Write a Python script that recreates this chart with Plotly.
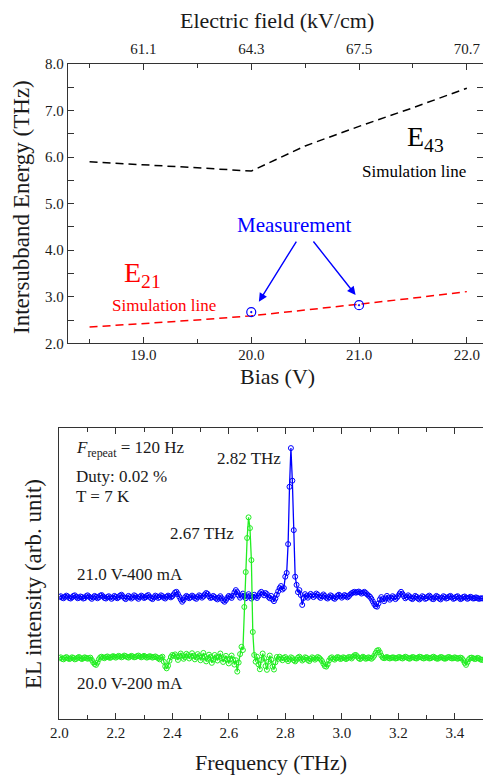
import numpy as np
import plotly.graph_objects as go

# ---------------- Top panel data ----------------
bias = [18.5, 19.0, 19.5, 20.0, 20.5, 21.0, 21.5, 22.0]
e43_sim = [5.90, 5.84, 5.77, 5.70, 6.24, 6.66, 7.06, 7.48]
e21_sim = [2.35, 2.42, 2.50, 2.59, 2.71, 2.84, 2.97, 3.11]
meas_bias = [20.0, 21.0]
meas_energy = [2.67, 2.82]
top_tick_bias = [19.0, 20.0, 21.0, 22.0]
top_tick_field = ["61.1", "64.3", "67.5", "70.7"]

# ---------------- Bottom panel data ----------------
freq_start, freq_step, n_freq = 2.0, 0.005, 301
freq = np.round(freq_start + freq_step * np.arange(n_freq), 3)

el_21V = [
    42.0, 42.3, 41.8, 41.6, 42.1, 42.5, 42.2, 41.7, 41.5, 41.9, 42.4, 42.6, 42.1, 41.6, 41.8, 42.2, 42.0, 41.5, 41.7, 42.3,
    42.6, 42.2, 41.8, 41.4, 41.9, 42.4, 42.1, 41.6, 41.9, 42.5, 42.7, 42.2, 41.7, 41.5, 42.0, 42.3, 41.9, 41.4, 41.8, 42.4,
    42.1, 41.6, 41.9, 42.5, 42.8, 42.3, 41.7, 41.3, 41.8, 42.4, 42.0, 41.5, 41.9, 42.6, 42.3, 41.8, 41.4, 42.0, 42.5, 42.2,
    41.7, 41.9, 42.4, 42.7, 42.1, 41.6, 41.3, 41.9, 42.5, 42.2, 41.7, 42.0, 42.6, 42.3, 41.8, 41.5, 42.1, 42.5, 42.2, 41.9,
    42.3, 42.9, 43.6, 43.8, 43.0, 42.1, 41.2, 40.4, 41.0, 41.9, 42.4, 42.1, 41.6, 41.9, 42.5, 42.2, 41.7, 41.4, 42.0, 42.6,
    42.3, 41.8, 42.2, 42.9, 43.4, 43.1, 42.3, 41.7, 41.9, 42.4, 42.0, 41.5, 41.2, 41.8, 42.3, 41.6, 40.8, 40.4, 41.0, 41.8,
    42.4, 42.1, 41.7, 42.5, 43.6, 44.4, 43.7, 42.6, 41.8, 42.5, 43.2, 42.4, 41.6, 42.2, 43.0, 42.3, 41.5, 42.1, 42.8, 42.2,
    41.7, 42.4, 43.3, 43.8, 43.2, 42.6, 43.4, 43.0, 42.1, 41.6, 42.4, 41.2, 40.6, 41.5, 42.8, 44.0, 45.1, 45.8, 44.6, 45.1,
    49.0, 50.3, 60.2, 79.9, 93.2, 82.0, 65.0, 49.0, 46.2, 43.7, 44.4, 42.7, 39.3, 41.7, 43.0, 42.4, 41.8, 42.5, 43.1, 42.6,
    42.0, 42.5, 43.2, 42.8, 42.1, 41.7, 42.3, 42.9, 42.4, 41.8, 41.5, 42.0, 42.6, 42.3, 41.7, 41.4, 41.9, 42.5, 42.8, 42.3,
    41.8, 42.2, 42.7, 42.4, 41.9, 42.3, 42.9, 43.3, 43.6, 43.8, 43.5, 43.7, 43.9, 43.6, 43.2, 43.5, 43.8, 43.4, 42.9, 42.5,
    42.1, 41.4, 40.5, 39.6, 38.9, 38.7, 39.8, 41.2, 42.0, 41.3, 40.6, 41.5, 42.4, 41.8, 41.1, 41.7, 42.3, 41.9, 41.3, 41.8,
    42.4, 43.2, 43.8, 43.1, 42.3, 41.6, 42.0, 42.6, 42.2, 41.6, 41.3, 41.8, 42.4, 42.1, 41.5, 41.2, 41.7, 42.3, 42.0, 41.4,
    41.6, 42.2, 42.5, 42.0, 41.4, 41.3, 41.9, 42.4, 42.1, 41.5, 41.2, 41.8, 42.3, 42.0, 41.5, 41.7, 42.2, 42.4, 41.9, 41.4,
    41.6, 42.1, 42.3, 41.8, 41.3, 41.5, 42.0, 42.2, 41.8, 41.4, 41.7, 42.1, 41.9, 41.5, 41.6, 41.9, 41.7, 41.4, 41.5, 41.6,
    41.5,
]

el_20V = [
    21.0, 21.3, 20.8, 20.6, 21.1, 21.4, 21.0, 20.7, 20.9, 21.3, 21.1, 20.6, 20.8, 21.2, 21.4, 21.0, 20.7, 21.0, 21.3, 21.1,
    20.8, 21.0, 21.2, 20.4, 19.6, 19.0, 18.7, 19.5, 20.6, 21.3, 21.5, 21.2, 21.0, 21.4, 21.6, 21.3, 21.1, 21.4, 21.7, 21.5,
    21.2, 21.5, 21.8, 21.6, 21.3, 21.5, 21.9, 21.7, 21.4, 21.2, 21.5, 21.8, 21.6, 21.3, 21.4, 21.7, 21.9, 21.6, 21.3, 21.5,
    21.8, 21.5, 21.2, 21.4, 21.7, 21.5, 21.2, 21.4, 21.6, 21.3, 21.0, 20.6, 21.2, 21.5, 19.8, 18.2, 17.5, 18.4, 20.1, 21.4,
    22.1, 21.8, 22.3, 21.5, 20.4, 21.7, 22.6, 21.9, 20.8, 21.4, 22.5, 22.0, 20.9, 21.6, 22.7, 21.8, 20.6, 21.3, 22.4, 21.7,
    20.3, 21.2, 22.8, 21.6, 19.9, 20.8, 22.2, 21.4, 19.4, 20.5, 22.1, 21.3, 20.2, 21.5, 22.6, 21.0, 19.7, 20.9, 21.8, 20.6,
    19.2, 20.7, 21.9, 20.5, 18.8, 20.3, 16.4, 19.5, 22.4, 24.9, 23.8, 38.6, 50.6, 62.3, 69.4, 65.7, 54.7, 30.0, 22.1, 19.8,
    21.5, 18.9, 17.2, 20.4, 22.6, 21.0, 18.3, 17.0, 19.8, 21.9, 20.5, 18.1, 17.1, 19.6, 21.4, 20.8, 21.5, 20.9, 20.3, 21.1,
    21.4, 20.7, 20.0, 20.6, 21.3, 21.0, 20.3, 19.9, 20.5, 21.2, 21.5, 20.9, 20.2, 20.6, 21.3, 21.1, 20.4, 20.0, 20.7, 21.3,
    21.0, 20.5, 20.9, 21.4, 21.1, 20.6, 20.0, 19.1, 18.3, 18.1, 18.9, 20.2, 21.0, 21.3, 20.8, 20.5, 21.0, 21.4, 21.2, 20.7,
    20.9, 21.3, 21.1, 20.7, 21.0, 21.4, 21.3, 20.9, 21.5, 22.0, 22.1, 21.6, 21.0, 20.7, 21.1, 21.5, 21.2, 20.8, 21.0, 21.3,
    21.1, 20.8, 21.2, 21.9, 22.8, 23.6, 23.8, 23.0, 21.9, 21.2, 21.0, 21.2, 21.4, 21.1, 20.9, 21.1, 21.3, 21.2, 20.9, 21.0,
    21.3, 21.4, 21.1, 20.9, 21.2, 21.5, 21.3, 21.0, 20.8, 21.1, 21.4, 21.3, 21.0, 20.9, 21.2, 21.5, 21.4, 21.1, 20.9, 21.1,
    21.4, 21.2, 20.9, 21.0, 21.3, 21.5, 21.2, 20.9, 20.8, 21.1, 21.4, 21.3, 21.0, 20.8, 21.0, 21.3, 21.4, 21.1, 20.9, 21.0,
    21.3, 21.1, 20.8, 21.0, 21.2, 21.0, 20.3, 19.4, 18.7, 19.6, 20.6, 21.1, 21.2, 21.0, 20.7, 20.8, 21.1, 21.0, 20.6, 20.4,
    20.5,
]

W, H = 483, 776
FONT = "Liberation Serif, Times New Roman, serif"
AX = "#333333"
TXT = "#1a1a1a"
BLUE = "#0000ff"
GREEN = "#22ee22"
RED = "#ff0000"

fig = go.Figure()

# top panel
fig.add_trace(go.Scatter(x=bias, y=e43_sim, mode="lines", xaxis="x", yaxis="y",
                         line=dict(color="black", width=1.5, dash="8px,5px"), showlegend=False))
fig.add_trace(go.Scatter(x=bias, y=e21_sim, mode="lines", xaxis="x", yaxis="y",
                         line=dict(color=RED, width=1.5, dash="8px,5px"), showlegend=False))
fig.add_trace(go.Scatter(x=meas_bias, y=meas_energy, mode="markers", xaxis="x", yaxis="y",
                         marker=dict(symbol="circle-open-dot", size=9, color=BLUE, line=dict(width=1.2, color=BLUE)),
                         showlegend=False))
# invisible trace to activate top axis
fig.add_trace(go.Scatter(x=bias, y=e43_sim, mode="lines", xaxis="x2", yaxis="y",
                         line=dict(width=0), opacity=0, hoverinfo="skip", showlegend=False))

# bottom panel
fig.add_trace(go.Scatter(x=freq, y=el_21V, mode="lines+markers", xaxis="x3", yaxis="y2",
                         line=dict(color=BLUE, width=1.3),
                         marker=dict(symbol="circle-open", size=5, color=BLUE, line=dict(width=1, color=BLUE)),
                         showlegend=False))
fig.add_trace(go.Scatter(x=freq, y=el_20V, mode="lines+markers", xaxis="x3", yaxis="y2",
                         line=dict(color=GREEN, width=1.3),
                         marker=dict(symbol="circle-open", size=5, color=GREEN, line=dict(width=1, color=GREEN)),
                         showlegend=False))

def py(p):
    return 1 - p / H

def px(p):
    return p / W

axis_common = dict(showline=True, linecolor=AX, linewidth=1.3, showgrid=False, zeroline=False,
                   automargin=False,
                   ticks="inside", tickcolor=AX, tickwidth=1.2, ticklen=6,
                   tickfont=dict(family=FONT, size=15, color=TXT))

fig.update_layout(
    width=W, height=H,
    margin=dict(l=0, r=0, t=0, b=0, pad=0),
    paper_bgcolor="white", plot_bgcolor="white",
    font=dict(family=FONT, color=TXT),
    xaxis=dict(domain=[px(68), 1.0], anchor="y", range=[18.3, 22.15], dtick=1, tick0=19,
               tickformat=".1f", mirror="allticks", ticklabelstandoff=-2,
               minor=dict(dtick=0.5, tick0=18.5, ticks="inside", ticklen=4, tickcolor=AX, tickwidth=1.2),
               **axis_common),
    xaxis2=dict(overlaying="x", side="top", anchor="y", range=[18.3, 22.15], automargin=False,
                tickvals=top_tick_bias, ticktext=top_tick_field, ticks="", showline=False,
                showgrid=False, zeroline=False, ticklabelstandoff=6,
                tickfont=dict(family=FONT, size=15, color=TXT)),
    yaxis=dict(domain=[py(343.3), py(64)], anchor="x", range=[2, 8], dtick=1, tick0=2,
               tickformat=".1f", mirror="allticks",
               minor=dict(dtick=0.5, ticks="inside", ticklen=4, tickcolor=AX, tickwidth=1.2),
               **axis_common),
    xaxis3=dict(domain=[px(59.3), 1.0], anchor="y2", range=[2.0, 3.5], dtick=0.2, tick0=2.0,
                tickformat=".1f", mirror="allticks",
                minor=dict(dtick=0.1, ticks="inside", ticklen=4, tickcolor=AX, tickwidth=1.2),
                **axis_common),
    yaxis2=dict(domain=[py(719.3), py(428.3)], anchor="x3", range=[0, 100], automargin=False,
                showticklabels=False, ticks="", showline=True, mirror=True,
                linecolor=AX, linewidth=1.3, showgrid=False, zeroline=False),
)

ann = []
def text(x, y, s, size, color=TXT, xref="paper", yref="paper", xanchor="center", yanchor="middle", angle=0):
    ann.append(dict(x=x, y=y, xref=xref, yref=yref, text=s, showarrow=False, xanchor=xanchor,
                    yanchor=yanchor, textangle=angle, font=dict(family=FONT, size=size, color=color)))

# axis titles
text(px(277), py(20), "Electric field (kV/cm)", 22)
text(px(277), py(376), "Bias (V)", 22)
text(px(22), py(207), "Intersubband Energy (THz)", 23, angle=-90)
text(px(33), py(584), "EL intensity (arb. unit)", 23, angle=-90)
text(px(271), py(762), "Frequency (THz)", 22)

# top panel labels
text(20.396, 4.54, "Measurement", 21, BLUE, "x", "y")
text(18.80, 3.47, "E<sub>21</sub>", 28, RED, "x", "y", xanchor="left")
text(19.186, 2.82, "Simulation line", 17, RED, "x", "y")
text(21.43, 6.41, "E<sub>43</sub>", 28, "black", "x", "y", xanchor="left")
text(21.51, 5.69, "Simulation line", 17, "black", "x", "y")

for hx, hy, tx, ty in [(20.071, 2.894, 20.427, 4.219), (20.968, 3.038, 20.566, 4.219)]:
    ann.append(dict(x=hx, y=hy, ax=tx, ay=ty, xref="x", yref="y", axref="x", ayref="y", text="",
                    showarrow=True, arrowhead=2, arrowsize=1.2, arrowwidth=1.4, arrowcolor=BLUE,
                    standoff=0, startstandoff=0))

# bottom panel labels
text(2.052, 92.9, "<i>F</i><sub>repeat</sub> = 120 Hz", 17, TXT, "x3", "y2", xanchor="left")
text(2.052, 83.4, "Duty: 0.02 %", 17, TXT, "x3", "y2", xanchor="left")
text(2.052, 76.5, "T = 7 K", 17, TXT, "x3", "y2", xanchor="left")
text(2.793, 89.5, "2.82 THz", 17, TXT, "x3", "y2", xanchor="right")
text(2.6255, 63.9, "2.67 THz", 17, TXT, "x3", "y2", xanchor="right")
text(2.0556, 49.6, "21.0 V-400 mA", 17, TXT, "x3", "y2", xanchor="left")
text(2.0556, 12.4, "20.0 V-200 mA", 17, TXT, "x3", "y2", xanchor="left")

fig.update_layout(annotations=ann)
fig.write_html("out.html", config={"displayModeBar": False},
               post_script="document.body.style.margin='0';document.body.style.overflow='hidden';")
